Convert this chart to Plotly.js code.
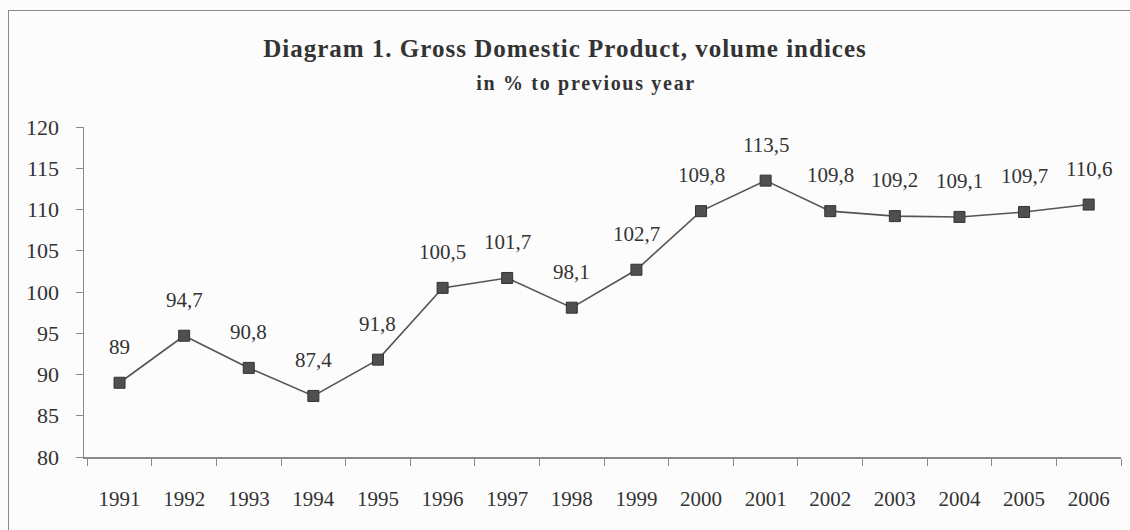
<!DOCTYPE html>
<html>
<head>
<meta charset="utf-8">
<script src="https://cdn.plot.ly/plotly-3.0.1.min.js"></script>
<style>
  html, body { margin: 0; padding: 0; background: #fcfcfc; }
  #wrap { position: relative; width: 1130px; height: 530px; overflow: hidden; }
  #chart { position: absolute; left: 0; top: 0; width: 1130px; height: 530px; }
  #frame { position: absolute; left: 8px; top: 10px; width: 1200px; height: 600px;
           border-top: 1.5px solid #8a8a8a; border-left: 1.5px solid #8a8a8a; pointer-events: none; }
  #chart .gtitle { letter-spacing: 1px; }
  #chart .annotation.subtitle text { letter-spacing: 1.7px; }
</style>
</head>
<body>
<div id="wrap">
  <div id="chart"></div>
  <div id="frame"></div>
</div>
<script>
const years = ['1991','1992','1993','1994','1995','1996','1997','1998','1999','2000','2001','2002','2003','2004','2005','2006'];
const gdpIndex = [89, 94.7, 90.8, 87.4, 91.8, 100.5, 101.7, 98.1, 102.7, 109.8, 113.5, 109.8, 109.2, 109.1, 109.7, 110.6];
const yTicks = [80, 85, 90, 95, 100, 105, 110, 115, 120];

const serif = '"Liberation Serif", "Times New Roman", serif';
const fmt = v => String(v).replace('.', ',');

const trace = {
  type: 'scatter',
  mode: 'lines+markers',
  x: years,
  y: gdpIndex,
  line: { color: '#555555', width: 1.6 },
  marker: { symbol: 'square', size: 11, color: '#4f4f4f', line: { color: '#333333', width: 1 } },
  hoverinfo: 'x+y'
};

// category index used as x so numeric-looking year strings are not read as positions
const annotations = years.map((yr, i) => ({
  x: i, y: gdpIndex[i], xref: 'x', yref: 'y',
  text: fmt(gdpIndex[i]), showarrow: false, yshift: 36,
  font: { family: serif, size: 21, color: '#333333' }
}));

annotations.push({
  xref: 'paper', yref: 'paper', x: (586 - 84) / 1037, y: 1, yanchor: 'middle', yshift: 44,
  showarrow: false, text: '<b>in % to previous year</b>',
  font: { family: serif, size: 20, color: '#333333' }
});

const layout = {
  width: 1130, height: 530,
  margin: { l: 84, r: 9, t: 127, b: 73 },
  paper_bgcolor: '#fcfcfc', plot_bgcolor: '#fcfcfc',
  showlegend: false,
  title: {
    text: '<b>Diagram 1. Gross Domestic Product, volume indices</b>',
    x: 565 / 1130, xanchor: 'center', xref: 'container',
    y: 1 - 48/530, yanchor: 'middle', yref: 'container',
    font: { family: serif, size: 25, color: '#333333' }
  },
  xaxis: {
    type: 'category',
    range: [-0.55, 15.5],
    showgrid: false, zeroline: false,
    showline: true, linecolor: '#8a8a8a', linewidth: 1.5,
    ticks: 'outside', tickson: 'boundaries', ticklen: 7, tickcolor: '#8a8a8a', tickwidth: 1,
    ticklabelstandoff: 22,
    tickfont: { family: serif, size: 21, color: '#333333' },
    fixedrange: true
  },
  yaxis: {
    range: [80, 120],
    tickvals: yTicks,
    ticktext: yTicks.map(String),
    showgrid: false, zeroline: false,
    showline: true, linecolor: '#8a8a8a', linewidth: 1.5,
    ticks: 'outside', ticklen: 7, tickcolor: '#8a8a8a', tickwidth: 1,
    ticklabelstandoff: 12,
    tickfont: { family: serif, size: 22, color: '#333333' },
    fixedrange: true
  },
  annotations: annotations
};

Plotly.newPlot('chart', [trace], layout, { displayModeBar: false, staticPlot: true }).then(gd => {
  // tag the subtitle annotation so the CSS letter spacing applies to it
  const anns = gd.querySelectorAll('.annotation');
  const sub = anns[anns.length - 1];
  if (sub) sub.classList.add('subtitle');
});
</script>
</body>
</html>
